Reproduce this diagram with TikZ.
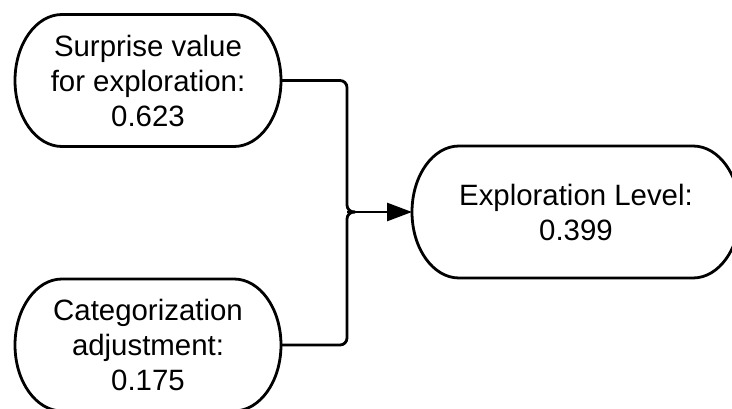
\documentclass[tikz,border=0pt]{standalone}
\usepackage{fontspec}
\setmainfont{Liberation Sans}
\usetikzlibrary{arrows.meta,calc}

% Terminator outline with elliptical ends, traced around a named node
\newcommand\termborder[1]{%
  \draw[termline] ([xshift=47pt]#1.north west) -- ([xshift=-47pt]#1.north east)
    arc[start angle=90,end angle=-90,x radius=47pt,y radius=66pt]
    -- ([xshift=47pt]#1.south west)
    arc[start angle=270,end angle=90,x radius=47pt,y radius=66pt] -- cycle;}

\tikzset{
  term/.style={rectangle, draw=none, inner sep=0pt, outer sep=0pt,
    minimum height=132pt, align=center,
    font=\fontsize{29.4}{35}\selectfont},
  termline/.style={draw=black, line width=2.8pt, fill=white},
  wire/.style={draw=black, line width=2.8pt, rounded corners=7pt},
  feed/.style={draw=black, line width=2.8pt,
    -{Triangle[length=25pt,width=18pt]}},
}

\begin{document}
\begin{tikzpicture}[x=1pt,y=1pt]
  \useasboundingbox (0,0) rectangle (732,408);
  \fill[white] (0,0) rectangle (732,408);
  \clip (0,0) rectangle (732,408);

  % node placement (text only, outlines traced afterwards)
  \path (148,327.5) node[term, minimum width=266pt] (surp) {};
  \path (148,63) node[term, minimum width=266pt] (cat) {};
  \path (576,196) node[term, minimum width=328pt] (expl) {};

  \termborder{surp}
  \termborder{cat}
  \termborder{expl}

  \node[term] at (surp) {Surprise value\\for exploration:\\0.623};
  \node[term] at (cat) {Categorization\\adjustment:\\0.175};
  \node[term] at (expl) {Exploration Level:\\0.399};

  % merge point of the two inputs
  \coordinate (join) at (347,196);

  \draw[wire] (surp.east) -| (join) -- ++(8,0);
  \draw[wire] (cat.east) -| (join) -- ++(8,0);
  \draw[feed] (join) -- (expl.west);
\end{tikzpicture}
\end{document}
